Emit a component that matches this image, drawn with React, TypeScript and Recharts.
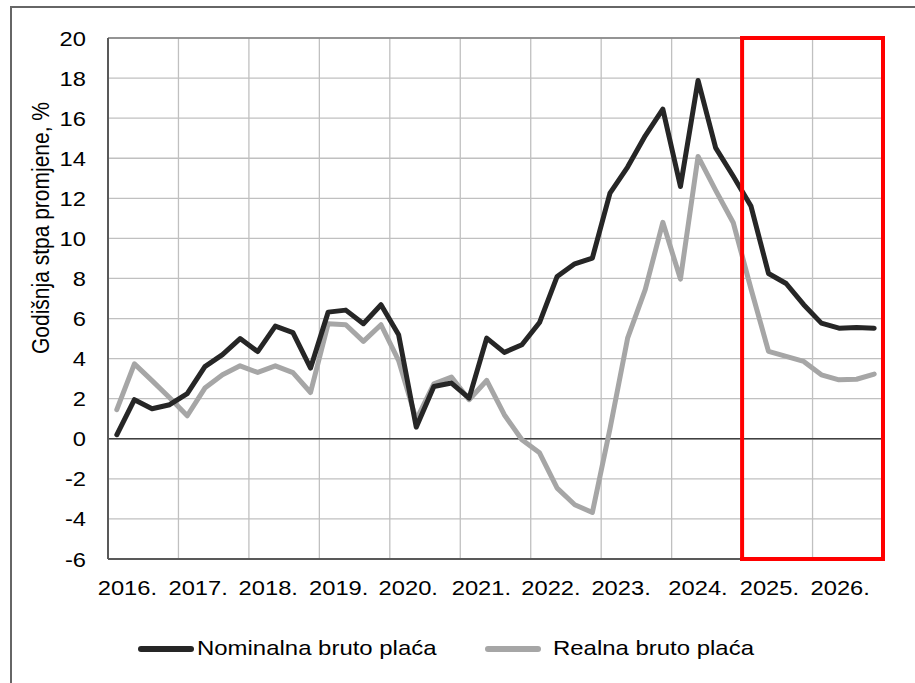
import React from "react"
import {
  LineChart, Line, XAxis, YAxis, CartesianGrid, ReferenceLine,
} from "recharts"

// quarterly data, 2016Q1 .. 2026Q4
const YEARS = ["2016.", "2017.", "2018.", "2019.", "2020.", "2021.", "2022.", "2023.", "2024.", "2025.", "2026."]

const NOMINAL = [
  0.2, 1.95, 1.5, 1.7,
  2.25, 3.6, 4.2, 5.0,
  4.35, 5.62, 5.3, 3.53,
  6.32, 6.42, 5.74, 6.69,
  5.19, 0.58, 2.61, 2.78,
  2.03, 5.02, 4.31, 4.69,
  5.8, 8.1, 8.73, 9.02,
  12.26, 13.56, 15.12, 16.45,
  12.59, 17.88, 14.52, 13.1,
  11.62, 8.25, 7.75, 6.69,
  5.77, 5.52, 5.55, 5.52,
]

const REAL = [
  1.45, 3.74, 2.9, 2.05,
  1.15, 2.53, 3.19, 3.64,
  3.31, 3.64, 3.3, 2.31,
  5.74, 5.69, 4.86, 5.69,
  3.9, 0.95, 2.74, 3.08,
  1.95, 2.91, 1.2, -0.05,
  -0.7, -2.46, -3.29, -3.68,
  0.5, 5.02, 7.44, 10.8,
  7.97, 14.09, 12.4, 10.78,
  7.5, 4.36, 4.11, 3.86,
  3.19, 2.94, 2.97, 3.23,
]

const Y_TICKS = [-6, -4, -2, 0, 2, 4, 6, 8, 10, 12, 14, 16, 18, 20]

// where each year label sits, in quarters from the start of the axis
const LABEL_POS = [1.1, 5.12, 9.1, 13.1, 17.05, 21.2, 25.15, 29.13, 33.5, 37.55, 41.57]

// projection window (2025-2026), in quarters
const FORECAST_FROM = 36
const FORECAST_TO = 44

const data = NOMINAL.map((n, i) => ({ q: i + 0.5, nominal: n, real: REAL[i] }))
const yearBounds = YEARS.slice(1).map((_, i) => (i + 1) * 4)

const FONT = "'Liberation Sans', Arial, sans-serif"
const STRETCH = 1.13

function XTick({ x, y, payload }: any) {
  const idx = LABEL_POS.indexOf(payload.value)
  return (
    <text x={x} y={y} textAnchor="middle" fontSize={21} fontWeight={400} fill="#000" fontFamily={FONT}
      transform={`translate(${x} ${y}) scale(${STRETCH} 1) translate(${-x} ${-y})`}>
      {YEARS[idx]}
    </text>
  )
}

function YTick({ x, y, payload }: any) {
  return (
    <text x={x} y={y} dy="0.36em" textAnchor="end" fontSize={21} fontWeight={400} fill="#000" fontFamily={FONT}
      transform={`translate(${x} ${y}) scale(${STRETCH} 1) translate(${-x} ${-y})`}>
      {String(payload.value)}
    </text>
  )
}

function YTitle() {
  return (
    <text textAnchor="middle" fontSize={21} fontWeight={400} fill="#000" fontFamily={FONT}
      transform={`translate(48.5 228) scale(${STRETCH} 1) rotate(-90)`}>
      Godišnja stpa promjene, %
    </text>
  )
}

function LegendItem({ color, left, textLeft, label }: { color: string; left: number; textLeft: number; label: string }) {
  return (
    <>
      <div style={{ position: "absolute", left, top: 646, width: 56, height: 5.5, borderRadius: 3, background: color }} />
      <div style={{
        position: "absolute", left: textLeft, top: 635, fontSize: 21, lineHeight: "26px",
        fontFamily: FONT, color: "#000", transform: "scaleX(1.14)", transformOrigin: "left center",
        whiteSpace: "nowrap",
      }}>{label}</div>
    </>
  )
}

const boxEdges = [
  [{ x: FORECAST_FROM, y: -6 }, { x: FORECAST_FROM, y: 20 }],
  [{ x: FORECAST_TO, y: -6 }, { x: FORECAST_TO, y: 20 }],
  [{ x: FORECAST_FROM, y: 20 }, { x: FORECAST_TO, y: 20 }],
  [{ x: FORECAST_FROM, y: -6 }, { x: FORECAST_TO, y: -6 }],
]

export default function App() {
  return (
    <div style={{ position: "fixed", left: 0, top: 0, width: 915, height: 683, overflow: "hidden", background: "#fff" }}>
      <div style={{ position: "absolute", left: 9.5, top: 6, width: 1200, height: 1200, border: "2px solid #666" }} />
      <div style={{ position: "absolute", left: 0, top: 0 }}>
        <LineChart width={915} height={683} data={data}
          margin={{ top: 38, right: 32, left: 48, bottom: 84 }}>
          <CartesianGrid stroke="#c0c0c0" strokeWidth={1.3} vertical={false} />
          <XAxis dataKey="q" type="number" domain={[0, 44]} ticks={LABEL_POS} interval={0}
            tick={<XTick />} tickLine={false} tickSize={0} tickMargin={36} height={40}
            axisLine={false} allowDataOverflow />
          <YAxis type="number" domain={[-6, 20]} ticks={Y_TICKS} interval={0} width={60}
            tick={<YTick />} tickLine={false} tickSize={0} tickMargin={22}
            axisLine={{ stroke: "#595959", strokeWidth: 2 }} label={<YTitle />} />
          {yearBounds.map((b) => (
            <ReferenceLine key={b} x={b} stroke="#c0c0c0" strokeWidth={1.3} />
          ))}
          <ReferenceLine segment={[{ x: 0, y: 20 }, { x: FORECAST_FROM, y: 20 }]} stroke="#808080" strokeWidth={1.3} />
          <ReferenceLine segment={[{ x: 0, y: -6 }, { x: FORECAST_FROM, y: -6 }]} stroke="#595959" strokeWidth={2} />
          <ReferenceLine y={0} stroke="#404040" strokeWidth={1.3} />
          <Line dataKey="real" stroke="#a6a6a6" strokeWidth={5} dot={false} strokeLinejoin="round" strokeLinecap="round" isAnimationActive={false} />
          <Line dataKey="nominal" stroke="#262626" strokeWidth={5} dot={false} strokeLinejoin="round" strokeLinecap="round" isAnimationActive={false} />
          {boxEdges.map((seg, i) => (
            <ReferenceLine key={`box${i}`} segment={seg} stroke="#ff0000" strokeWidth={4}
              strokeLinecap="square" ifOverflow="visible" />
          ))}
        </LineChart>
      </div>
      <LegendItem color="#262626" left={138} textLeft={197} label="Nominalna bruto plaća" />
      <LegendItem color="#a6a6a6" left={485} textLeft={552.5} label="Realna bruto plaća" />
    </div>
  )
}
